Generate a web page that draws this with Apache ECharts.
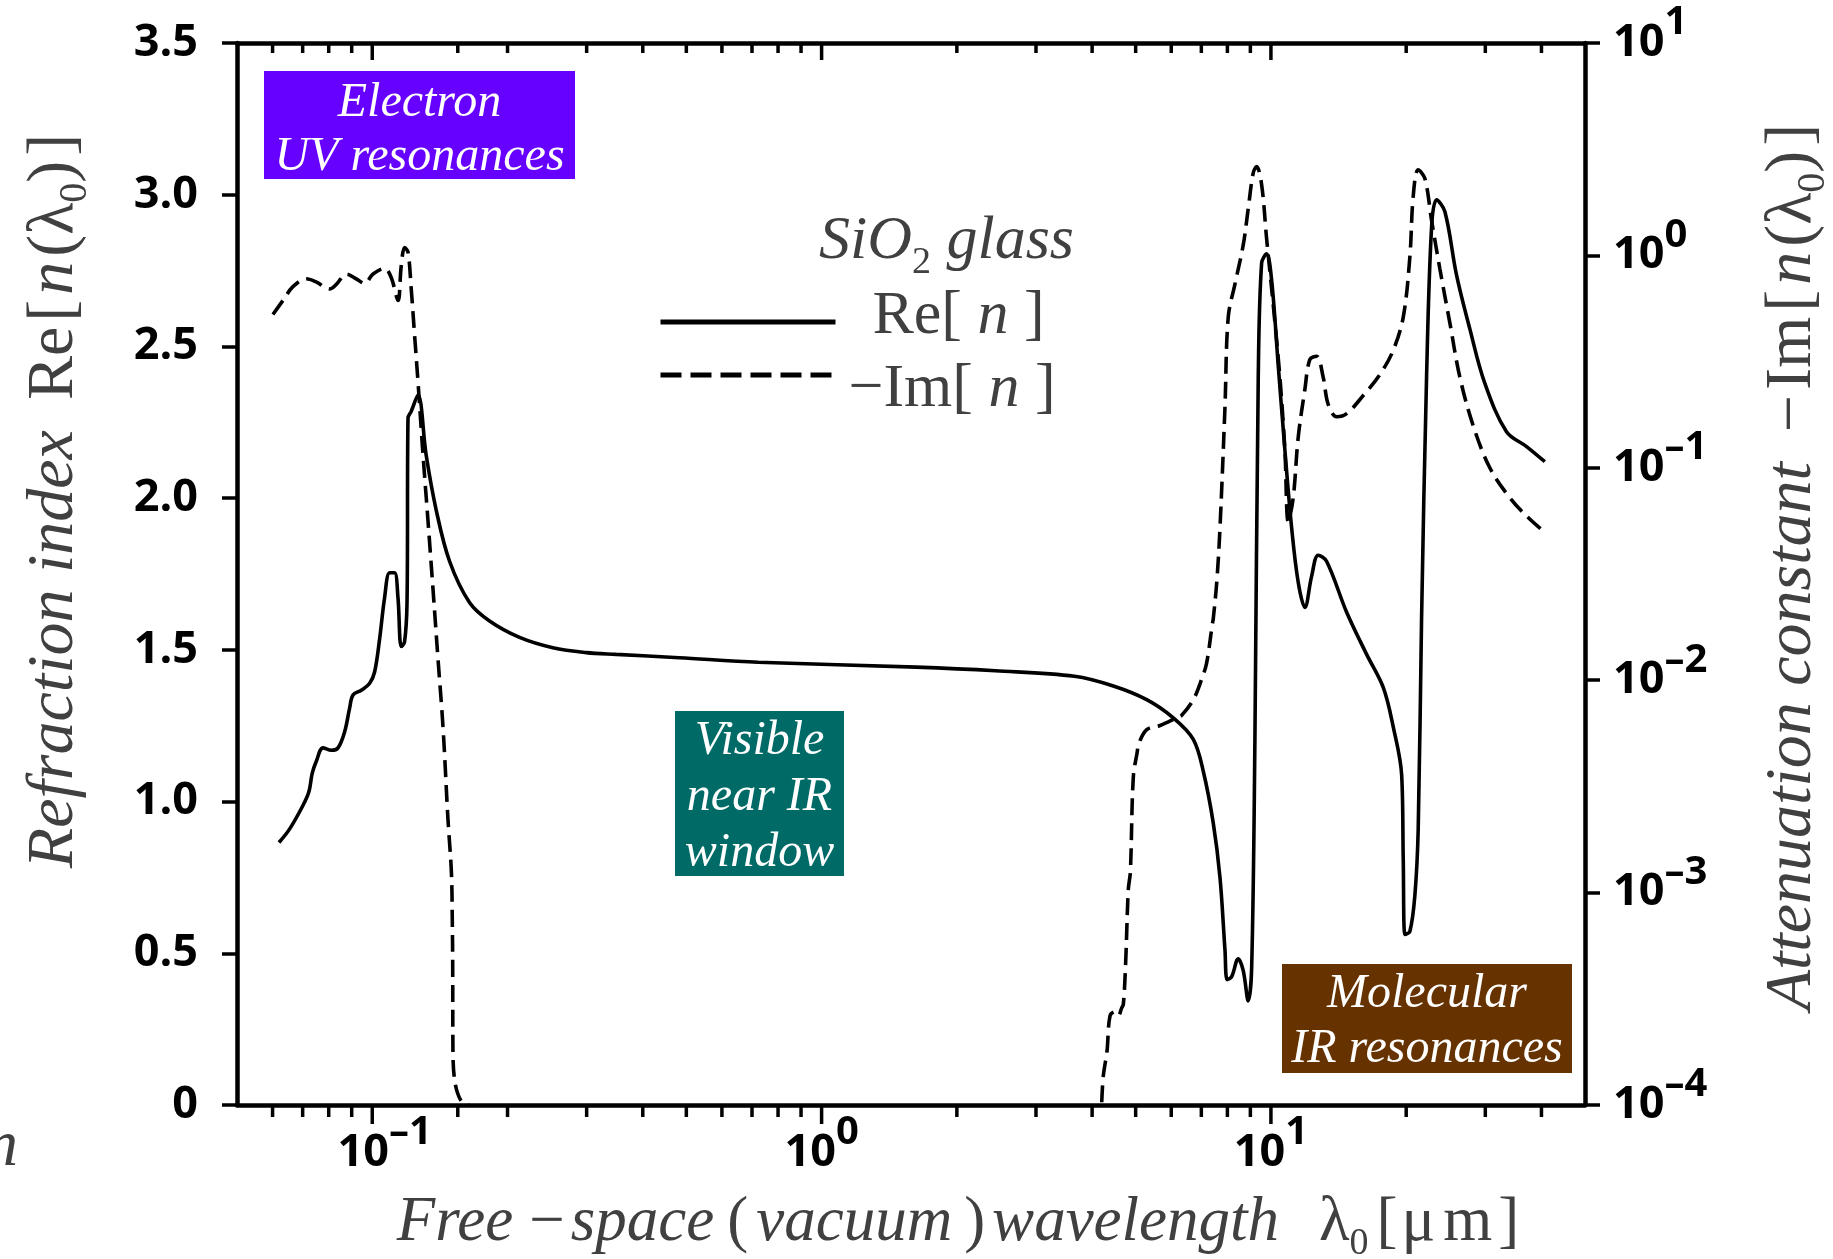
<!DOCTYPE html>
<html>
<head>
<meta charset="utf-8">
<title>SiO2 glass refraction index</title>
<script src="https://cdn.jsdelivr.net/npm/echarts@6.0.0/dist/echarts.min.js"></script>
<style>
  html, body { margin: 0; padding: 0; background: #ffffff; }
  #chart { width: 1833px; height: 1259px; }
</style>
</head>
<body>
<div id="chart"></div>
<script>
// wavelength in um, Re[n] on the left (linear) axis, -Im[n] on the right (log) axis
const reWavelength = [
  0.0620, 0.0655, 0.0701, 0.0723, 0.0735, 0.0750, 0.0777, 0.0811, 0.0839, 0.0868,
  0.0890, 0.0906, 0.0945, 0.0986, 0.1012, 0.1038, 0.1065, 0.1093, 0.1121, 0.1141,
  0.1160, 0.1180, 0.1195, 0.1201, 0.1221, 0.1264, 0.1318, 0.1388, 0.1486, 0.1646,
  0.1824, 0.2127, 0.2523, 0.2993, 0.3490, 0.482, 0.7229, 1.625, 2.437, 3.655,
  4.459, 5.290, 6.063, 6.717, 7.070, 7.442, 7.702, 7.901, 7.994, 8.177,
  8.458, 8.677, 8.902, 9.060, 9.213, 9.371, 9.535, 9.781, 10.04, 10.38,
  10.74, 11.12, 11.50, 11.90, 12.32, 12.74, 13.30, 14.74, 16.33, 17.78,
  18.71, 19.54, 19.70, 19.87, 20.38, 20.91, 21.27, 21.64, 22.20, 22.78,
  23.37, 24.39, 25.89, 27.72, 29.93, 33.44, 37.06, 40.70
];
const reIndex = [
  0.865, 0.910, 0.987, 1.033, 1.093, 1.131, 1.177, 1.169, 1.177, 1.230,
  1.306, 1.351, 1.367, 1.389, 1.427, 1.534, 1.671, 1.754, 1.754, 1.671,
  1.511, 1.526, 1.656, 2.264, 2.286, 2.340, 2.142, 1.960, 1.792, 1.656,
  1.595, 1.541, 1.507, 1.491, 1.485, 1.474, 1.459, 1.443, 1.431, 1.413,
  1.381, 1.336, 1.276, 1.205, 1.100, 0.929, 0.750, 0.512, 0.413, 0.423,
  0.482, 0.443, 0.343, 0.453, 1.207, 2.398, 2.775, 2.805, 2.716, 2.438,
  2.160, 1.902, 1.723, 1.640, 1.743, 1.812, 1.792, 1.624, 1.485, 1.376,
  1.247, 1.088, 0.810, 0.562, 0.572, 0.691, 0.909, 1.604, 2.398, 2.894,
  2.983, 2.944, 2.735, 2.557, 2.378, 2.219, 2.170, 2.120
];

const imUvWavelength = [
  0.0601, 0.0633, 0.0666, 0.0713, 0.0750, 0.0804, 0.0832, 0.0876, 0.0921, 0.0961,
  0.1004, 0.1065, 0.1102, 0.1141, 0.1160, 0.1180, 0.1201, 0.1221, 0.1242, 0.1264,
  0.1297, 0.1330, 0.1365, 0.1400, 0.1437, 0.1474, 0.1500, 0.1507, 0.1510, 0.1512,
  0.1528, 0.1575, 0.1640
];
const imUvValue = [
  0.527, 0.614, 0.713, 0.776, 0.750, 0.695, 0.731, 0.817, 0.776, 0.738,
  0.817, 0.869, 0.787, 0.614, 0.891, 1.089, 1.037, 0.695, 0.422, 0.255,
  0.115, 0.0570, 0.0269, 0.01273, 0.00601, 0.00221, 0.00125, 0.000741, 0.000473, 0.000179,
  0.000128, 0.000105, 0.0001
];

const imIrWavelength = [
  4.202, 4.236, 4.317, 4.384, 4.50, 4.58, 4.65, 4.695, 4.751, 4.815,
  4.866, 4.94, 5.044, 5.068, 5.290, 5.664, 6.168, 6.331, 6.717, 7.00,
  7.19, 7.399, 7.442, 7.580, 7.702, 7.901, 8.035, 8.316, 8.677, 8.902,
  9.134, 9.293, 9.535, 9.781, 10.12, 10.47, 10.74, 10.93, 11.21, 11.50,
  11.90, 12.21, 12.64, 13.07, 13.41, 14.00, 14.74, 16.05, 17.48, 18.71,
  19.70, 20.38, 20.73, 21.27, 22.01, 22.78, 23.77, 25.02, 26.33, 28.19,
  30.70, 34.01, 37.06, 40.35
];
const imIrValue = [
  0.000103, 0.000137, 0.000179, 0.000263, 0.000275, 0.000265, 0.000285, 0.000299, 0.000474, 0.001035,
  0.00125, 0.0035, 0.00464, 0.00497, 0.00585, 0.00612, 0.00666, 0.00684, 0.00809, 0.0100,
  0.0120, 0.0181, 0.0195, 0.0294, 0.0521, 0.192, 0.512, 0.733, 1.12, 1.66,
  2.45, 2.62, 2.15, 1.20, 0.583, 0.267, 0.122, 0.0556, 0.0723, 0.139,
  0.234, 0.324, 0.335, 0.267, 0.199, 0.174, 0.180, 0.219, 0.275, 0.357,
  0.512, 0.984, 1.89, 2.53, 2.30, 1.46, 0.863, 0.480, 0.267, 0.158,
  0.100, 0.0723, 0.0593, 0.0504
];

// x ticks (the odd one near 0.155 is in the original figure)
const xMajorTicks = [0.1, 1, 10];
const xMinorTicks = [0.06, 0.07, 0.08, 0.09, 0.155, 0.2, 0.3, 0.4, 0.5, 0.6, 0.7, 0.8, 0.9,
  2, 3, 4, 5, 6, 7, 8, 9, 20, 30, 40];
const leftTickLabels = ['0', '0.5', '1.0', '1.5', '2.0', '2.5', '3.0', '3.5'];

const SERIF = '"Liberation Serif", "DejaVu Serif", serif';
const SANS = '"Open Sans", "Noto Sans", sans-serif';
const GREY = '#404040';

function pairs(xs, ys) {
  return xs.map((x, i) => [x, ys[i]]);
}

function powerLabel(value, padFirst) {
  const exp = Math.log10(value);
  const k = Math.round(exp);
  if (Math.abs(exp - k) > 1e-6) return '';
  const sup = k < 0 ? '\u2013' + (-k) : String(k);
  const base = padFirst && k === -1 ? 'bp' : 'b';
  return '{' + base + '|10}{s|' + sup + '}';
}

const labelFont = { fontFamily: SANS, fontWeight: 'bold', color: '#000' };

// right axis: "10" centred on the tick, exponent raised
const powerRichY = {
  b: Object.assign({ fontSize: 45, lineHeight: 80, verticalAlign: 'middle' }, labelFont),
  s: Object.assign({ fontSize: 40, height: 40, lineHeight: 40, verticalAlign: 'top' }, labelFont)
};
// bottom axis: shorter box so the axis name is not pushed away
const powerRichX = {
  b: Object.assign({ fontSize: 45, height: 40, lineHeight: 60, verticalAlign: 'bottom' }, labelFont),
  bp: Object.assign({ fontSize: 45, height: 40, lineHeight: 60, verticalAlign: 'bottom', padding: [0, 0, 0, 25] }, labelFont),
  s: Object.assign({ fontSize: 40, height: 40, lineHeight: 40, verticalAlign: 'top' }, labelFont)
};

// serif math-like axis titles; gNN tokens are spaces NN px wide
function nameRich(size, gaps) {
  const r = {
    it: { fontFamily: SERIF, fontStyle: 'italic', fontWeight: 'normal', fontSize: size, color: GREY, lineHeight: 80 },
    up: { fontFamily: SERIF, fontWeight: 'normal', fontSize: size, color: GREY, lineHeight: 80 },
    sub: { fontFamily: SERIF, fontWeight: 'normal', fontSize: Math.round(size * 0.6), color: GREY, lineHeight: 40, verticalAlign: 'bottom' }
  };
  gaps.forEach(w => { r['g' + w] = { fontFamily: SERIF, fontSize: w * 4, lineHeight: 10 }; });
  return r;
}

const axisLineStyle = { color: '#000', width: 4.5 };
const tickStyle = { color: '#000', width: 3.5 };

const chart = echarts.init(document.getElementById('chart'));

chart.setOption({
  animation: false,
  backgroundColor: '#ffffff',
  grid: { left: 237, right: 248, top: 43, bottom: 154, containLabel: false, outerBoundsMode: 'none' },
  title: {
    text: '{it|SiO}{sub|2}{it| glass}',
    left: 819,
    top: 202,
    padding: 0,
    textStyle: {
      fontWeight: 'normal',
      fontFamily: SERIF,
      rich: {
        it: { fontFamily: SERIF, fontStyle: 'italic', fontWeight: 'normal', fontSize: 62, color: GREY, lineHeight: 80 },
        sub: { fontFamily: SERIF, fontWeight: 'normal', fontSize: 38, color: GREY, lineHeight: 38, verticalAlign: 'bottom' }
      }
    }
  },
  legend: {
    orient: 'vertical',
    left: 653,
    top: 281,
    itemWidth: 175,
    itemHeight: 20,
    itemGap: -17,
    selectedMode: false,
    itemStyle: { opacity: 0 },
    lineStyle: { width: 5 },
    data: [
      { name: 'Re', textStyle: { padding: [0, 0, 10, 32] } },
      { name: 'Im', textStyle: { padding: [30, 0, 0, 8] }, lineStyle: { type: [21, 9] } }
    ],
    formatter: function (name) {
      return name === 'Re' ? 'Re[ {i|n} ]' : '\u2212Im[ {i|n} ]';
    },
    textStyle: {
      fontFamily: SERIF,
      fontSize: 62,
      color: GREY,
      lineHeight: 50,
      rich: {
        i: { fontFamily: SERIF, fontStyle: 'italic', fontSize: 62, color: GREY, lineHeight: 50 }
      }
    }
  },
  xAxis: [
    {
      type: 'log',
      logBase: 10,
      min: 0.05,
      max: 50,
      position: 'bottom',
      axisLine: { show: true, onZero: false, lineStyle: axisLineStyle },
      axisTick: { show: false },
      minorTick: { show: false },
      splitLine: { show: false },
      axisLabel: {
        margin: 8,
        fontFamily: SANS,
        fontWeight: 'bold',
        fontSize: 45,
        color: '#000',
        formatter: function (v) { return powerLabel(v, true); },
        rich: powerRichX
      },
      name: '{it|Free}{g16| }{up|\u2212}{g6| }{it|space}{g13| }{up|(}{g8| }{it|vacuum}{g12| }{up|)}{g7| }{it|wavelength}{g40| }{up|\u03bb}{sub|0}{g8| }{up|[}{g4| }{up|\u03bc}{g8| }{up|m}{g6| }{up|]}',
      nameLocation: 'middle',
      nameGap: 78,
      nameMoveOverlap: false,
      nameTextStyle: { fontFamily: SERIF, padding: [0, 0, 0, 94], rich: nameRich(63, [4, 6, 7, 8, 12, 13, 16, 40]) }
    },
    {
      type: 'log',
      logBase: 10,
      min: 0.05,
      max: 50,
      position: 'top',
      axisLine: { show: true, onZero: false, lineStyle: axisLineStyle },
      axisTick: { show: false },
      axisLabel: { show: false },
      splitLine: { show: false }
    }
  ],
  yAxis: [
    {
      type: 'value',
      min: 0,
      max: 3.5,
      interval: 0.5,
      position: 'left',
      axisLine: { show: true, onZero: false, lineStyle: axisLineStyle },
      axisTick: { show: true, length: 15, lineStyle: tickStyle },
      splitLine: { show: false },
      axisLabel: {
        margin: 39,
        color: '#000',
        fontFamily: SANS,
        fontWeight: 'bold',
        fontSize: 45,
        formatter: function (v) { return leftTickLabels[Math.round(v / 0.5)]; }
      },
      name: '{it|Refraction index}{g30| }{up|Re}{g5| }{up|[}{g5| }{it|n}{g5| }{up|(\u03bb}{sub|0}{up|)}{g5| }{up|]}',
      nameLocation: 'middle',
      nameGap: 142,
      nameTextStyle: { fontFamily: SERIF, padding: [0, 0, 0, 146], rich: nameRich(66, [5, 30]) }
    },
    {
      type: 'log',
      logBase: 10,
      min: 0.0001,
      max: 10,
      position: 'right',
      axisLine: { show: true, onZero: false, lineStyle: axisLineStyle },
      axisTick: { show: true, length: 15, lineStyle: tickStyle },
      minorTick: { show: false },
      splitLine: { show: false },
      axisLabel: {
        margin: 28,
        fontFamily: SANS,
        fontWeight: 'bold',
        fontSize: 45,
        color: '#000',
        formatter: function (v) { return powerLabel(v, false); },
        rich: powerRichY
      },
      name: '{it|Attenuation constant}{g30| }{up|\u2212}{g5| }{up|Im}{g5| }{up|[}{g5| }{it|n}{g5| }{up|(\u03bb}{sub|0}{up|)}{g5| }{up|]}',
      nameLocation: 'middle',
      nameGap: 168,
      nameTextStyle: { fontFamily: SERIF, padding: [0, 0, 0, 14], rich: nameRich(66, [5, 30]) }
    }
  ],
  series: [
    {
      name: 'Re',
      type: 'line',
      xAxisIndex: 0,
      yAxisIndex: 0,
      color: '#000',
      symbol: 'none',
      smooth: 0.35,
      emphasis: { disabled: true },
      lineStyle: { color: '#000', width: 3.6 },
      data: pairs(reWavelength, reIndex),
      z: 3
    },
    {
      name: 'Im',
      type: 'line',
      xAxisIndex: 0,
      yAxisIndex: 1,
      color: '#000',
      symbol: 'none',
      smooth: 0.35,
      emphasis: { disabled: true },
      lineStyle: { color: '#000', width: 3.6, type: [17, 8] },
      data: pairs(imUvWavelength, imUvValue),
      z: 3
    },
    {
      name: 'Im',
      type: 'line',
      xAxisIndex: 0,
      yAxisIndex: 1,
      color: '#000',
      symbol: 'none',
      smooth: 0.35,
      emphasis: { disabled: true },
      lineStyle: { color: '#000', width: 3.6, type: [17, 8] },
      data: pairs(imIrWavelength, imIrValue),
      z: 3
    },
    {
      // log-axis ticks at 2..9 x decade, bottom (outside) and top (inside)
      name: 'xticks',
      type: 'custom',
      xAxisIndex: 0,
      yAxisIndex: 0,
      silent: true,
      clip: false,
      z: 6,
      data: xMinorTicks.map(v => [v, 0]).concat(xMajorTicks.map(v => [v, 1])),
      renderItem: function (params, api) {
        const v = api.value(0);
        const major = api.value(1) === 1;
        const b = api.coord([v, 0]);
        const t = api.coord([v, 3.5]);
        const lb = major ? 19 : 12;
        const lt = major ? 17 : 10;
        const st = { stroke: '#000', lineWidth: 3.5 };
        return {
          type: 'group',
          children: [
            { type: 'line', shape: { x1: b[0], y1: b[1], x2: b[0], y2: b[1] + lb }, style: st },
            { type: 'line', shape: { x1: t[0], y1: t[1], x2: t[0], y2: t[1] + lt }, style: st }
          ]
        };
      }
    }
  ],
  graphic: [
    { type: 'rect', shape: { x: 264, y: 71, width: 311, height: 108 }, style: { fill: '#6600ff' }, z: 1 },
    {
      type: 'text', x: 419.5, y: 130, z: 2,
      style: { text: 'Electron\nUV resonances', fill: '#ffffff', fontFamily: SERIF, fontStyle: 'italic', fontSize: 48, lineHeight: 54, align: 'center', verticalAlign: 'middle' }
    },
    { type: 'rect', shape: { x: 675, y: 711, width: 169, height: 165 }, style: { fill: '#006a66' }, z: 1 },
    {
      type: 'text', x: 759.5, y: 797, z: 2,
      style: { text: 'Visible\nnear IR\nwindow', fill: '#ffffff', fontFamily: SERIF, fontStyle: 'italic', fontSize: 48, lineHeight: 56, align: 'center', verticalAlign: 'middle' }
    },
    { type: 'rect', shape: { x: 1282, y: 964, width: 290, height: 109 }, style: { fill: '#663300' }, z: 1 },
    {
      type: 'text', x: 1427, y: 1022, z: 2,
      style: { text: 'Molecular\nIR resonances', fill: '#ffffff', fontFamily: SERIF, fontStyle: 'italic', fontSize: 48, lineHeight: 55, align: 'center', verticalAlign: 'middle' }
    },
    {
      type: 'text', x: -15, y: 1148, z: 2,
      style: { text: 'n', fill: GREY, fontFamily: SERIF, fontStyle: 'italic', fontSize: 66, align: 'left', verticalAlign: 'middle' }
    }
  ]
});
</script>
</body>
</html>
